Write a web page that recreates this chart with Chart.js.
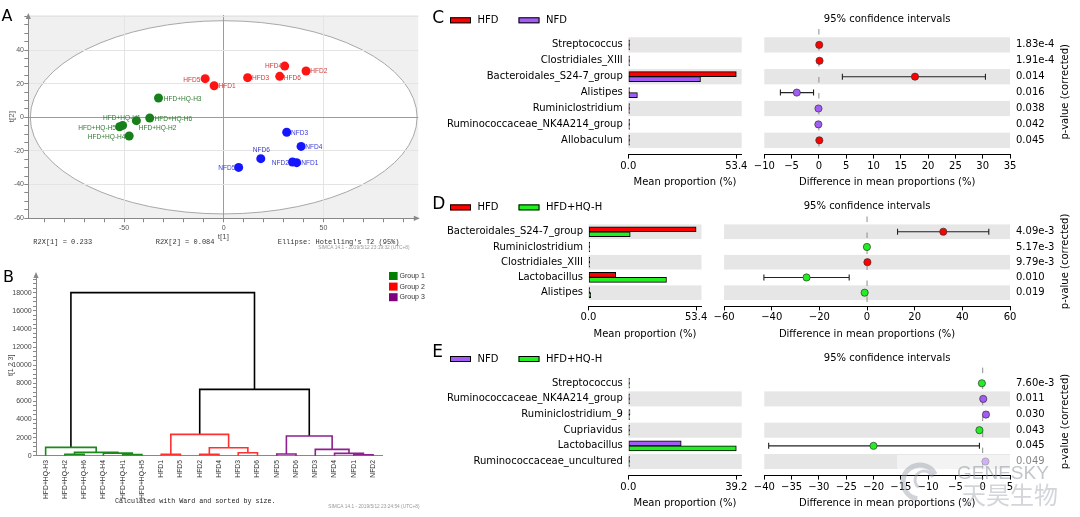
<!DOCTYPE html>
<html><head><meta charset="utf-8">
<script src="https://cdn.jsdelivr.net/npm/chart.js@4.4.1/dist/chart.umd.min.js"></script>
<style>
html,body{margin:0;padding:0;background:#fff;width:1080px;height:517px;overflow:hidden}
canvas{position:absolute;left:0;top:0}
</style></head><body>
<script>
// ================= DATA =================
// Panel A: PCA score plot
const aHFD_names = ['HFD1','HFD2','HFD3','HFD4','HFD5','HFD6'];
const aHFD_x = [-4.8, 41.3, 12.0, 30.6, -9.3, 28.1];
const aHFD_y = [18.8, 27.6, 23.6, 30.5, 23.0, 24.4];
const aHQ_names = ['HFD+HQ-H1','HFD+HQ-H2','HFD+HQ-H3','HFD+HQ-H4','HFD+HQ-H5','HFD+HQ-H6'];
const aHQ_x = [-50.7, -43.8, -32.7, -47.4, -52.2, -37.1];
const aHQ_y = [-4.8, -2.0, 11.5, -11.1, -5.6, -0.4];
const aNFD_names = ['NFD1','NFD2','NFD3','NFD4','NFD5','NFD6'];
const aNFD_x = [36.6, 34.5, 31.6, 38.8, 7.5, 18.6];
const aNFD_y = [-27.0, -26.6, -8.9, -17.3, -29.8, -24.6];
const aEllipse = [97, 57.5];          // Hotelling's T2 (95%) semi-axes
const aR2X = [0.233, 0.084];

// Panel B: hierarchical clustering (Ward)
const bLeaves = ['HFD+HQ-H3','HFD+HQ-H2','HFD+HQ-H6','HFD+HQ-H4','HFD+HQ-H1','HFD+HQ-H5',
                 'HFD1','HFD5','HFD2','HFD4','HFD3','HFD6','NFD5','NFD6','NFD3','NFD4','NFD1','NFD2'];
const bLeafGroup = [1,1,1,1,1,1,2,2,2,2,2,2,3,3,3,3,3,3];
const bLinkage = [ // [node a, node b, height]
  [1,2,150],[4,5,120],[3,19,280],[18,20,370],[0,21,920],
  [6,7,150],[8,9,150],[10,11,330],[24,25,880],[23,26,2350],
  [12,13,180],[16,17,110],[15,29,260],[14,30,700],[28,31,2170],
  [27,32,7320],[22,33,18000]
];
const bGroups = ['Group 1','Group 2','Group 3'];

// Panel C: HFD vs NFD
const cTaxa = ['Streptococcus','Clostridiales_XIII','Bacteroidales_S24-7_group','Alistipes','Ruminiclostridium','Ruminococcaceae_NK4A214_group','Allobaculum'];
const cHFD  = [0.06, 0.12, 53.4, 0.4, 0.03, 0.03, 0.08];
const cNFD  = [0.02, 0.02, 35.7, 4.5, 0.12, 0.12, 0.02];
const cDiff = [0.06, 0.12, 17.6, -4.05, -0.08, -0.1, 0.08];
const cLo   = [null, null, 4.3, -7.05, null, null, null];
const cHi   = [null, null, 30.5, -0.98, null, null, null];
const cP    = ['1.83e-4','1.91e-4','0.014','0.016','0.038','0.042','0.045'];
const cMaxTick = 53.4;
const cTicksR = [-10,-5,0,5,10,15,20,25,30,35];

// Panel D: HFD vs HFD+HQ-H
const dTaxa = ['Bacteroidales_S24-7_group','Ruminiclostridium','Clostridiales_XIII','Lactobacillus','Alistipes'];
const dHFD  = [53.4, 0.03, 0.25, 13.5, 0.4];
const dHQ   = [20.7, 0.1, 0.03, 38.7, 1.1];
const dDiff = [32.0, -0.06, 0.15, -25.4, -1.0];
const dLo   = [12.8, null, null, -43.3, null];
const dHi   = [51.1, null, null, -7.5, null];
const dP    = ['4.09e-3','5.17e-3','9.79e-3','0.010','0.019'];
const dMaxTick = 53.4;
const dTicksR = [-60,-40,-20,0,20,40,60];

// Panel E: NFD vs HFD+HQ-H
const eTaxa = ['Streptococcus','Ruminococcaceae_NK4A214_group','Ruminiclostridium_9','Cupriavidus','Lactobacillus','Ruminococcaceae_uncultured'];
const eNFD  = [0.02, 0.1, 0.6, 0.02, 19.2, 0.5];
const eHQ   = [0.15, 0.02, 0.02, 0.4, 39.2, 0.02];
const eDiff = [-0.15, 0.1, 0.6, -0.6, -20.0, 0.5];
const eLo   = [null, null, 0.25, null, -39.2, null];
const eHi   = [null, null, 0.95, null, -0.6, null];
const eP    = ['7.60e-3','0.011','0.030','0.043','0.045','0.049'];
const eMaxTick = 39.2;
const eTicksR = [-40,-35,-30,-25,-20,-15,-10,-5,0,5];

// ================= STYLE / LAYOUT =================
const W = 1080, H = 517;
const RED = '#ff0000', PURPLE = '#a35cf6', GREEN = '#22ee22';
const aLabHFD = [[4.5,0.5,'left'],[4.3,0,'left'],[4.4,0.6,'left'],[-2.6,0,'right'],[-4.7,1,'right'],[4,1,'left']];
const aLabHQ  = [[-19.6,-8,'left'],[2.3,7.6,'left'],[5.3,0.7,'left'],[-3.7,0.7,'right'],[-3.6,0.6,'right'],[4.7,0.7,'left']];
const aLabNFD = [[4.7,0.6,'left'],[-3.7,0.3,'right'],[4.4,0.7,'left'],[4.3,0.7,'left'],[-3.3,0.7,'right'],[0.5,-8.7,'center']];

Chart.defaults.font.family = 'DejaVu Sans';
Chart.defaults.animation = false;
Chart.defaults.events = [];
Chart.defaults.plugins.legend.display = false;
Chart.defaults.plugins.tooltip.enabled = false;

function newCanvas(){
  const c = document.createElement('canvas');
  c.width = W; c.height = H; c.style.width = W+'px'; c.style.height = H+'px';
  document.body.appendChild(c); return c;
}
function pad(l,t,r,b,wL,wR,hB){ return {left:l-wL, top:t, right:W-r-wR, bottom:H-b-hB}; }
function txt(ctx, s, x, y, font, color, align, base){
  ctx.save(); ctx.font = font; ctx.fillStyle = color; ctx.textAlign = align||'left';
  ctx.textBaseline = base||'middle'; ctx.fillText(s, x, y); ctx.restore();
}
function triUp(ctx,x,y){ctx.beginPath();ctx.moveTo(x,y);ctx.lineTo(x-2.6,y+6);ctx.lineTo(x+2.6,y+6);ctx.closePath();ctx.fill();}
function triRight(ctx,x,y){ctx.beginPath();ctx.moveTo(x,y);ctx.lineTo(x-6,y-2.6);ctx.lineTo(x-6,y+2.6);ctx.closePath();ctx.fill();}
const smallFont = {family:'Liberation Sans', size:7};

// ================= PANEL A =================
const panelAPlugin = {
  id:'panelA',
  beforeDraw(chart){
    const {ctx, chartArea:ca, scales:{x,y}} = chart;
    ctx.save();
    ctx.fillStyle = '#f0f0f0';
    ctx.fillRect(ca.left, ca.top, ca.right-ca.left, ca.bottom-ca.top);
    const cx = x.getPixelForValue(0), cy = y.getPixelForValue(0);
    const rx = x.getPixelForValue(aEllipse[0]) - cx, ry = cy - y.getPixelForValue(aEllipse[1]);
    ctx.beginPath(); ctx.ellipse(cx, cy, rx, ry, 0, 0, Math.PI*2);
    ctx.fillStyle = '#ffffff'; ctx.fill();
    ctx.strokeStyle = '#a8a8a8'; ctx.lineWidth = 1; ctx.stroke();
    ctx.restore();
  },
  afterDatasetsDraw(chart){
    const ctx = chart.ctx;
    chart.data.datasets.forEach((ds, di) => {
      const meta = chart.getDatasetMeta(di);
      meta.data.forEach((pt, i) => {
        const [dx, dy, al] = ds.labs[i];
        ctx.save();
        ctx.translate(pt.x + dx, pt.y + dy);
        ctx.scale(0.82, 1);
        ctx.font = '8px "Liberation Sans"';
        ctx.fillStyle = ds.labColor; ctx.textAlign = al; ctx.textBaseline = 'middle';
        ctx.fillText(ds.names[i], 0, 0);
        ctx.restore();
      });
    });
  },
  afterDraw(chart){
    const {ctx, chartArea:ca} = chart;
    ctx.save(); ctx.fillStyle = '#888';
    triUp(ctx, ca.left, ca.top - 2);
    triRight(ctx, ca.right + 1.5, ca.bottom);
    ctx.restore();
    const mono = '7px "Liberation Mono"';
    txt(ctx, 'R2X[1] = ' + aR2X[0].toFixed(3), 33.3, 242.5, mono, '#333');
    txt(ctx, 'R2X[2] = ' + aR2X[1].toFixed(3), 155.7, 242.5, mono, '#333');
    txt(ctx, "Ellipse: Hotelling's T2 (95%)", 277.7, 242, mono, '#333');
    txt(ctx, 'SIMCA 14.1 - 2019/5/12 23:19:32 (UTC+8)', 318.3, 247.8, '4.8px "Liberation Sans"', '#999');
    txt(ctx, 'A', 1.5, 16.5, '16px "DejaVu Sans"', '#000');
  }
};
const ptsA = (xs, ys) => xs.map((x,i)=>({x, y:ys[i]}));
new Chart(newCanvas(), {
  type:'scatter',
  data:{datasets:[
    {data:ptsA(aHFD_x,aHFD_y), pointBackgroundColor:'#ff1414', pointBorderWidth:0, pointRadius:4.5, names:aHFD_names, labs:aLabHFD, labColor:'#cf3a3a'},
    {data:ptsA(aHQ_x,aHQ_y), pointBackgroundColor:'#17801a', pointBorderWidth:0, pointRadius:4.5, names:aHQ_names, labs:aLabHQ, labColor:'#2f7a30'},
    {data:ptsA(aNFD_x,aNFD_y), pointBackgroundColor:'#1515ff', pointBorderWidth:0, pointRadius:4.5, names:aNFD_names, labs:aLabNFD, labColor:'#3a3ad8'}
  ]},
  options:{
    responsive:false,
    layout:{padding:pad(28.3,15,418.3,218.3,28.3,0,23.2)},
    scales:{
      x:{type:'linear', min:-98, max:97.6,
        afterBuildTicks:s=>{s.ticks=[]; for(let v=-90; v<=90; v+=10) s.ticks.push({value:v});},
        afterFit:s=>{s.height=23.2;},
        ticks:{autoSkip:false, maxRotation:0, padding:1.8, color:'#555', font:smallFont, callback:v=>v%50===0?String(v):''},
        grid:{color:c=>{const v=c.tick?c.tick.value:1; return v===0?'#9c9c9c':(v%50===0?'#e4e4e4':'rgba(0,0,0,0)');}, tickColor:'#888', tickLength:4},
        border:{color:'#888'},
        title:{display:true, text:'t[1]', color:'#555', font:{family:'Liberation Sans', size:8}, padding:0}
      },
      y:{type:'linear', min:-60.1, max:60.9,
        afterBuildTicks:s=>{s.ticks=[]; for(let v=-60; v<=60; v+=5) s.ticks.push({value:v});},
        afterFit:s=>{s.width=28.3;},
        ticks:{autoSkip:false, padding:0.3, color:'#555', font:smallFont, callback:v=>(v%20===0&&v!==60)?String(v):''},
        grid:{color:c=>{const v=c.tick?c.tick.value:1; return v===0?'#9c9c9c':(v%20===0?'#e4e4e4':'rgba(0,0,0,0)');}, tickColor:'#888', tickLength:4},
        border:{color:'#888'},
        title:{display:true, text:'t[2]', color:'#555', font:{family:'Liberation Sans', size:8}, padding:{top:7,bottom:0}}
      }
    }
  },
  plugins:[panelAPlugin]
});

// ================= PANEL B =================
const bGroupColor = {0:'#000000', 1:'#1a8a1a', 2:'#ff3030', 3:'#8e1f8e'};
const bLegendColor = ['#008000','#ff0000','#800080'];
const nodeX = bLeaves.map((_,i)=>i), nodeH = bLeaves.map(()=>0), nodeG = bLeafGroup.slice();
bLinkage.forEach(([a,b,h])=>{ nodeX.push((nodeX[a]+nodeX[b])/2); nodeH.push(h); nodeG.push(nodeG[a]===nodeG[b]?nodeG[a]:0); });
const bSets = bLinkage.map(([a,b,h],k)=>({
  data:[{x:nodeX[a],y:nodeH[a]},{x:nodeX[a],y:h},{x:nodeX[b],y:h},{x:nodeX[b],y:nodeH[b]}],
  showLine:true, borderColor:bGroupColor[nodeG[bLeaves.length+k]], borderWidth:1.6, pointRadius:0, tension:0, clip:false
}));
const panelBPlugin = {
  id:'panelB',
  afterDraw(chart){
    const {ctx, chartArea:ca} = chart;
    ctx.save(); ctx.fillStyle = '#888'; triUp(ctx, ca.left, ca.top - 3); ctx.restore();
    bGroups.forEach((g,i)=>{
      ctx.save(); ctx.fillStyle = bLegendColor[i]; ctx.fillRect(389, 272 + i*10.6, 8.6, 8); ctx.restore();
      txt(ctx, g, 399.5, 276.2 + i*10.6, '7px "Liberation Sans"', '#333');
    });
    txt(ctx, 'Calculated with Ward and sorted by size.', 115, 500.8, '6.7px "Liberation Mono"', '#222');
    txt(ctx, 'SIMCA 14.1 - 2019/5/12 23:24:54 (UTC+8)', 328.3, 506.7, '4.8px "Liberation Sans"', '#999');
    txt(ctx, 'B', 3, 277.5, '16px "DejaVu Sans"', '#000');
  }
};
new Chart(newCanvas(), {
  type:'scatter',
  data:{datasets:bSets},
  options:{
    responsive:false,
    layout:{padding:pad(36,275,382.7,455.7,36,0,50)},
    scales:{
      x:{type:'linear', min:-0.5, max:bLeaves.length-0.5,
        afterBuildTicks:s=>{s.ticks=bLeaves.map((_,i)=>({value:i}));},
        afterFit:s=>{s.height=50;},
        ticks:{autoSkip:false, minRotation:90, maxRotation:90, padding:4.3, color:'#333', font:{family:'Liberation Sans', size:6.8}, callback:v=>bLeaves[v]},
        grid:{display:false, drawTicks:false},
        border:{color:'#888'}
      },
      y:{type:'linear', min:0, max:19950,
        afterBuildTicks:s=>{s.ticks=[]; for(let v=0; v<=19500; v+=500) s.ticks.push({value:v});},
        afterFit:s=>{s.width=36;},
        ticks:{autoSkip:false, padding:1.3, color:'#444', font:smallFont, callback:v=>(v%2000===0&&v<=18000)?String(v):''},
        grid:{drawOnChartArea:false, color:'#888', tickLength:3},
        border:{color:'#888'},
        title:{display:true, text:'t[1 2 3]', color:'#444', font:{family:'Liberation Sans', size:7}, padding:{top:6.5,bottom:0}}
      }
    }
  },
  plugins:[panelBPlugin]
});

// ================= PANELS C, D, E =================
const F10 = {family:'DejaVu Sans', size:10};
const minusFmt = v => v<0 ? '\u2212'+Math.abs(v) : String(v);

function stampPanel(cfg){
  const {taxa,g1,g2,diff,lo,hi,p,n1,n2,c1,c2,maxTick,rTicks,geo,last} = cfg;
  const n = taxa.length, yMin = -1, yMax = n - 0.1;
  const setYTicks = s => { s.ticks = taxa.map((_,i)=>({value:i})); };
  const bands = {
    id:'bands',
    beforeDatasetsDraw(chart){
      const {ctx, chartArea:ca, scales} = chart; const ys = scales.y;
      ctx.save(); ctx.fillStyle = '#e6e6e6';
      for (let i=0;i<n;i++){
        if ((n-1-i)%2) continue;
        const y1 = ys.getPixelForValue(i-0.48), y2 = ys.getPixelForValue(i+0.48);
        ctx.fillRect(ca.left, Math.min(y1,y2), ca.right-ca.left, Math.abs(y2-y1));
      }
      ctx.restore();
    }
  };
  const legendPlug = {
    id:'stampLegend',
    afterDraw(chart){
      const ctx = chart.ctx;
      txt(ctx, geo.letter, 432.3, geo.letterY, '17px "DejaVu Sans"', '#000');
      [[450,c1,n1],[518.5,c2,n2]].forEach(([x,c,nm])=>{
        ctx.save(); ctx.fillStyle = c; ctx.fillRect(x, geo.legendY-3, 21, 6);
        ctx.strokeStyle = '#000'; ctx.lineWidth = 1; ctx.strokeRect(x+0.5, geo.legendY-2.5, 20, 5); ctx.restore();
        txt(ctx, nm, x+27.5, geo.legendY, '10px "DejaVu Sans"', '#000');
      });
    }
  };
  // left: mean proportions
  new Chart(newCanvas(), {
    type:'bar',
    data:{datasets:[
      {data:taxa.map((t,i)=>({x:g1[i], y:i})), backgroundColor:c1, borderColor:'#000', borderWidth:1, borderSkipped:false, barThickness:5, minBarLength:1.2},
      {data:taxa.map((t,i)=>({x:g2[i], y:i})), backgroundColor:c2, borderColor:'#000', borderWidth:1, borderSkipped:false, barThickness:5, minBarLength:1.2}
    ]},
    options:{
      indexAxis:'y', responsive:false,
      layout:{padding:pad(geo.L[0], geo.top, geo.L[1], geo.bottom, geo.L[0]-440, 0, 34)},
      scales:{
        y:{type:'linear', offset:false, reverse:true, min:yMin, max:yMax, afterBuildTicks:setYTicks, afterFit:s=>{s.width=geo.L[0]-440;},
          ticks:{autoSkip:false, padding:5.5, color:'#000', font:F10, callback:v=>taxa[v]},
          grid:{display:false, drawTicks:false, offset:false}, border:{display:false}},
        x:{type:'linear', min:0, max:maxTick*1.05,
          afterBuildTicks:s=>{s.ticks=[{value:0},{value:maxTick}];}, afterFit:s=>{s.height=34;},
          ticks:{autoSkip:false, maxRotation:0, padding:1.5, color:'#000', font:F10, callback:v=>Number(v).toFixed(1)},
          grid:{drawOnChartArea:false, color:'#000', tickLength:4}, border:{color:'#000', width:1},
          title:{display:true, text:'Mean proportion (%)', color:'#000', font:F10, padding:0}}
      }
    },
    plugins:[bands, legendPlug]
  });
  // right: difference with 95% CI
  const ciPlug = {
    id:'ci',
    beforeDatasetsDraw(chart){
      const {ctx, chartArea:ca, scales:{x,y}} = chart;
      ctx.save();
      const x0 = x.getPixelForValue(0);
      ctx.strokeStyle = '#8c8c8c'; ctx.lineWidth = 1; ctx.setLineDash([5.5, 10.5]);
      ctx.beginPath(); ctx.moveTo(x0, ca.top); ctx.lineTo(x0, ca.bottom); ctx.stroke();
      ctx.setLineDash([]);
      ctx.strokeStyle = '#222'; ctx.lineWidth = 1.1;
      for (let i=0;i<n;i++){
        if (lo[i]===null) continue;
        const yy = y.getPixelForValue(i), xa = x.getPixelForValue(lo[i]), xb = x.getPixelForValue(hi[i]);
        ctx.beginPath(); ctx.moveTo(xa,yy); ctx.lineTo(xb,yy);
        ctx.moveTo(xa,yy-3); ctx.lineTo(xa,yy+3); ctx.moveTo(xb,yy-3); ctx.lineTo(xb,yy+3); ctx.stroke();
      }
      ctx.restore();
    },
    afterDraw(chart){
      const {ctx, chartArea:ca} = chart;
      txt(ctx, '95% confidence intervals', (ca.left+ca.right)/2, geo.titleY, '10px "DejaVu Sans"', '#000', 'center');
      ctx.save(); ctx.translate(1065, (ca.top+ca.bottom)/2); ctx.rotate(-Math.PI/2);
      ctx.font = '10px "DejaVu Sans"'; ctx.fillStyle = '#000'; ctx.textAlign = 'center'; ctx.textBaseline = 'middle';
      ctx.fillText('p-value (corrected)', 0, 0); ctx.restore();
      if (last) drawWatermark(ctx);
    }
  };
  new Chart(newCanvas(), {
    type:'scatter',
    data:{datasets:[{data:diff.map((d,i)=>({x:d, y:i})), pointBackgroundColor:diff.map(d=>d>=0?c1:c2),
      pointBorderColor:'#333', pointBorderWidth:0.7, pointRadius:3.6}]},
    options:{
      responsive:false,
      layout:{padding:pad(geo.R[0], geo.top, geo.R[1], geo.bottom, 0, 60, 34)},
      scales:{
        x:{type:'linear', min:rTicks[0], max:rTicks[rTicks.length-1],
          afterBuildTicks:s=>{s.ticks=rTicks.map(v=>({value:v}));}, afterFit:s=>{s.height=34;},
          ticks:{autoSkip:false, maxRotation:0, padding:1.5, color:'#000', font:F10, callback:minusFmt},
          grid:{drawOnChartArea:false, color:'#000', tickLength:4}, border:{color:'#000', width:1},
          title:{display:true, text:'Difference in mean proportions (%)', color:'#000', font:F10, padding:0}},
        y:{type:'linear', display:false, reverse:true, min:yMin, max:yMax},
        yp:{type:'linear', axis:'y', position:'right', reverse:true, min:yMin, max:yMax,
          afterBuildTicks:setYTicks, afterFit:s=>{s.width=60;},
          ticks:{autoSkip:false, padding:6, color:'#000', font:F10, callback:v=>p[v]},
          grid:{display:false, drawTicks:false}, border:{display:false}}
      }
    },
    plugins:[bands, ciPlug]
  });
}

function drawWatermark(ctx){
  ctx.save();
  ctx.fillStyle = 'rgba(255,255,255,0.5)';
  ctx.fillRect(897, 455, 165, 14);
  ctx.strokeStyle = 'rgba(150,158,166,0.45)'; ctx.lineWidth = 5;
  ctx.beginPath(); ctx.arc(920, 482, 17, Math.PI*0.55, Math.PI*1.85); ctx.stroke();
  ctx.lineWidth = 3;
  ctx.beginPath(); ctx.arc(924, 480, 9, Math.PI*0.7, Math.PI*1.9); ctx.stroke();
  ctx.restore();
  txt(ctx, 'GENESKY', 957, 474, '19px "Liberation Sans"', 'rgba(140,150,160,0.55)');
  txt(ctx, '天昊生物', 962, 495, '24px "Noto Sans CJK SC"', 'rgba(165,172,180,0.5)');
}

stampPanel({taxa:cTaxa, g1:cHFD, g2:cNFD, diff:cDiff, lo:cLo, hi:cHi, p:cP, n1:'HFD', n2:'NFD', c1:RED, c2:PURPLE,
  maxTick:cMaxTick, rTicks:cTicksR,
  geo:{letter:'C', letterY:18.7, legendY:20.3, titleY:19, top:29.0, bottom:154.6, L:[628.3,741.7], R:[764.3,1010]}});
stampPanel({taxa:dTaxa, g1:dHFD, g2:dHQ, diff:dDiff, lo:dLo, hi:dHi, p:dP, n1:'HFD', n2:'HFD+HQ-H', c1:RED, c2:GREEN,
  maxTick:dMaxTick, rTicks:dTicksR,
  geo:{letter:'D', letterY:205, legendY:207.4, titleY:206.7, top:216.5, bottom:306.4, L:[588.5,701.5], R:[724.1,1010]}});
stampPanel({taxa:eTaxa, g1:eNFD, g2:eHQ, diff:eDiff, lo:eLo, hi:eHi, p:eP, n1:'NFD', n2:'HFD+HQ-H', c1:PURPLE, c2:GREEN,
  maxTick:eMaxTick, rTicks:eTicksR, last:true,
  geo:{letter:'E', letterY:352.5, legendY:359, titleY:358.3, top:367.6, bottom:475.6, L:[628.3,741.7], R:[764.3,1010]}});
</script>
</body></html>
